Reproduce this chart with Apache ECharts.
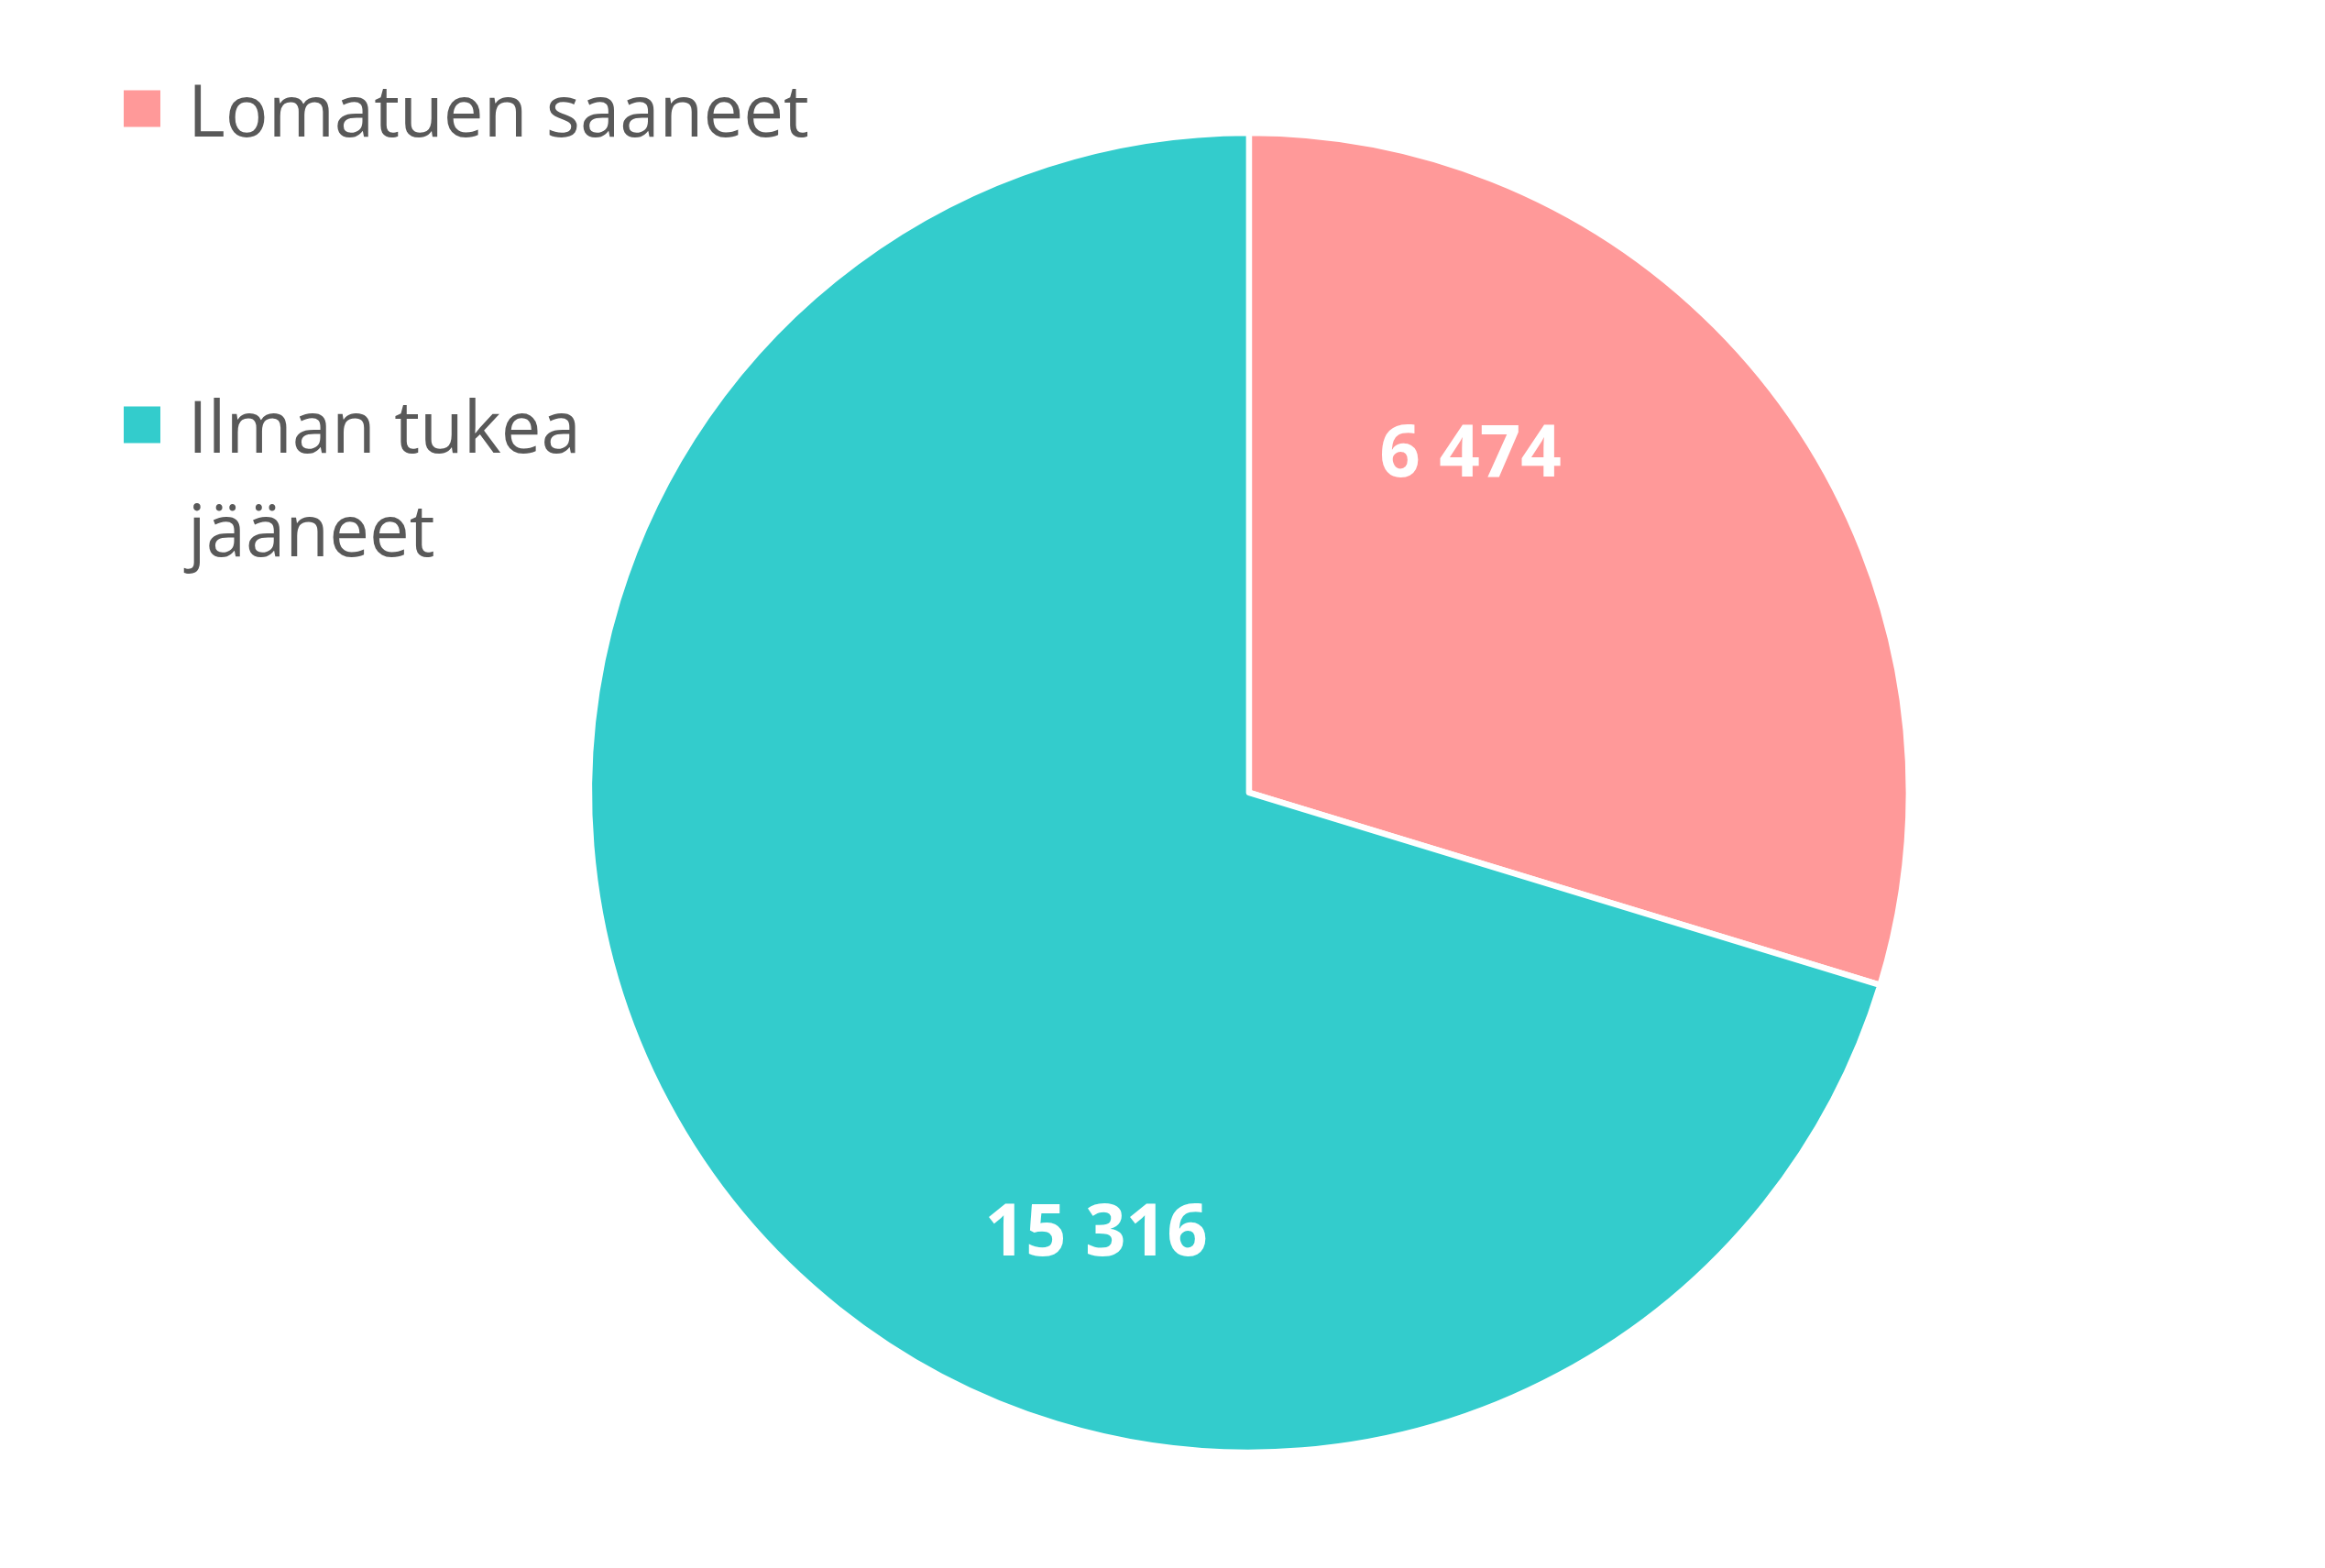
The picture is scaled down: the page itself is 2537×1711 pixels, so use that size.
<!DOCTYPE html>
<html>
<head>
<meta charset="utf-8">
<script src="https://cdn.jsdelivr.net/npm/echarts@6/dist/echarts.min.js"></script>
<style>
    html, body { margin: 0; padding: 0; background: #ffffff; }
    #chart { width: 2537px; height: 1711px; }
</style>
</head>
<body>
<div id="chart"></div>
<script>
// data
const categories = ['Lomatuen saaneet', 'Ilman tukea jääneet']
const values = [6474, 15316]
const valueLabels = ['6 474', '15 316']
const sliceColors = ['#FF9999', '#33CCCC']

// legend names as they wrap in the original (spacer line keeps the first line level with the box)
const legendText = {
    'Lomatuen saaneet': '{s| }\n{t|Lomatuen saaneet}',
    'Ilman tukea jääneet': '{s2| }\n{t|Ilman tukea}\n{t|jääneet}',
}

// label nudges from the default inside position (Excel puts them elsewhere)
const labelShift = [
    { dx: -50, dy: -151 },
    { dx: 125, dy: 267 },
]

const chart = echarts.init(document.getElementById('chart'))

chart.setOption({
    animation: false,
    legend: {
        orient: 'vertical',
        left: 133,
        top: 57,
        padding: 0,
        itemWidth: 42,
        itemHeight: 42,
        itemGap: 180,
        icon: 'rect',
        data: categories,
        formatter: name => legendText[name],
        textStyle: {
            fontFamily: 'Open Sans',
            fontSize: 78,
            color: '#595959',
            rich: {
                s: { fontSize: 10, lineHeight: 16 },
                s2: { fontSize: 10, lineHeight: 129 },
                t: {
                    fontFamily: 'Open Sans',
                    fontSize: 78,
                    lineHeight: 113,
                    color: '#595959',
                    padding: [0, 0, 0, 24],
                },
            },
        },
    },
    series: [
        {
            type: 'pie',
            center: ['53.72%', '50.55%'],
            radius: 720,
            startAngle: 90,
            clockwise: true,
            silent: true,
            data: categories.map((name, i) => ({
                name,
                value: values[i],
                itemStyle: { color: sliceColors[i] },
            })),
            itemStyle: {
                borderColor: '#ffffff',
                borderWidth: 6.5,
            },
            label: {
                show: true,
                position: 'inside',
                formatter: params => valueLabels[params.dataIndex],
                fontFamily: 'Open Sans',
                fontWeight: 'bold',
                fontSize: 78,
                color: '#ffffff',
            },
            labelLine: { show: false },
            labelLayout: params => labelShift[params.dataIndex],
        },
    ],
})
</script>
</body>
</html>
